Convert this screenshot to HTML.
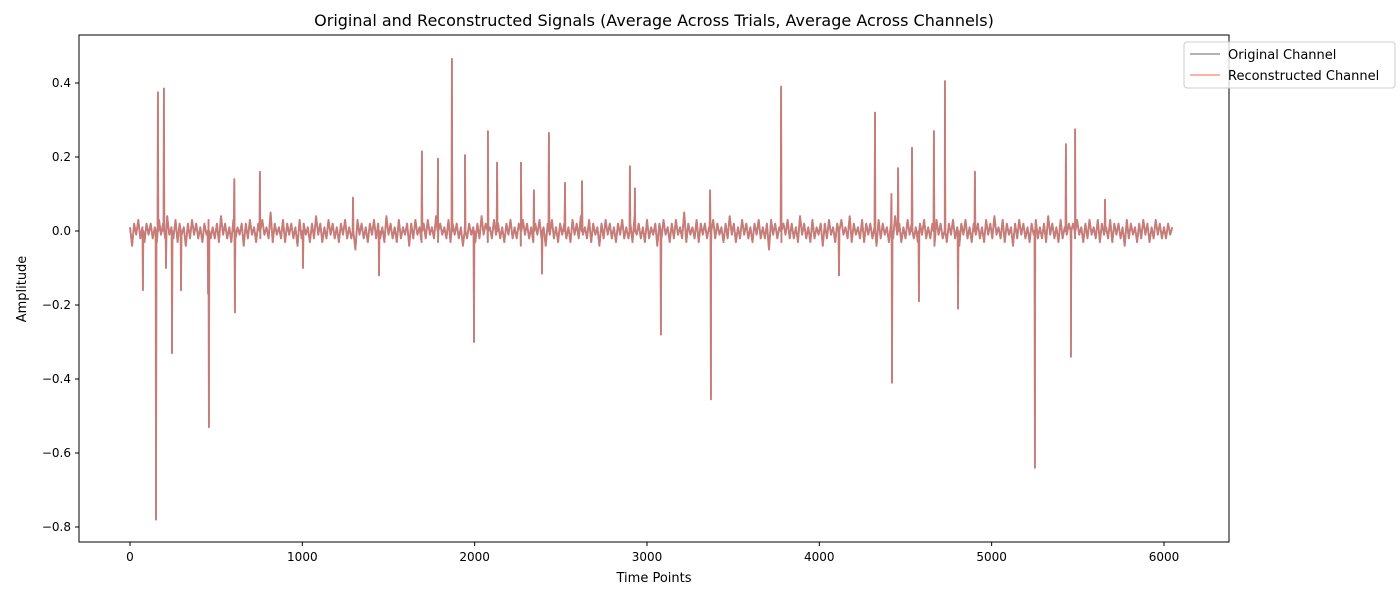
<!DOCTYPE html>
<html><head><meta charset="utf-8"><style>
body{margin:0;background:#fff;font-family:"Liberation Sans","DejaVu Sans",sans-serif}
svg text{font-family:"DejaVu Sans","Liberation Sans",sans-serif;fill:#000}
</style></head><body>
<svg id="chart" width="1400" height="600">
<text x="654" y="26" font-size="16" text-anchor="middle">Original and Reconstructed Signals (Average Across Trials, Average Across Channels)</text>
<g id="plot"></g>
<rect x="79" y="35" width="1150" height="507" fill="none" stroke="#000" stroke-width="1"/>
<g id="axes"></g>
<text x="654" y="582" font-size="13" text-anchor="middle">Time Points</text>
<text x="26" y="289" font-size="13" text-anchor="middle" transform="rotate(-90 26 289)">Amplitude</text>
<g>
<rect x="1184" y="42" width="211" height="46" rx="3" fill="#fff" fill-opacity="0.8" stroke="#ccc"/>
<line x1="1190" y1="54" x2="1220" y2="54" stroke="#808080" stroke-opacity="0.6" stroke-width="2"/>
<text x="1228" y="59" font-size="13">Original Channel</text>
<line x1="1190" y1="75" x2="1220" y2="75" stroke="#fa8072" stroke-opacity="0.6" stroke-width="2"/>
<text x="1228" y="80" font-size="13">Reconstructed Channel</text>
</g>
</svg>
<script>
const xTicks=[0,1000,2000,3000,4000,5000,6000];
const yTicks=[-0.8,-0.6,-0.4,-0.2,0.0,0.2,0.4];
const baseStep=12;
const baseline=[
0.01,-0.04,0.02,-0.01,0.03,-0.02,0.01,-0.03,0.02,-0.01,
0.02,-0.02,0.01,-0.03,0.03,-0.01,0.02,-0.02,0.04,-0.01,
0.01,-0.02,0.03,-0.03,0.02,-0.01,0.01,-0.04,0.02,-0.02,
0.03,-0.01,0.02,-0.02,0.01,-0.03,0.02,-0.01,0.03,-0.02,
0.01,-0.02,0.02,-0.03,0.04,-0.01,0.02,-0.02,0.01,-0.03,
0.03,-0.02,0.01,-0.01,0.02,-0.04,0.02,-0.02,0.03,-0.01,
0.01,-0.03,0.02,-0.02,0.03,-0.01,0.01,-0.02,0.05,-0.03,
0.02,-0.01,0.01,-0.02,0.03,-0.03,0.02,-0.01,0.02,-0.02,
0.01,-0.04,0.03,-0.02,0.02,-0.01,0.01,-0.03,0.02,-0.02,
0.04,-0.01,0.02,-0.03,0.01,-0.02,0.03,-0.01,0.02,-0.02,
0.01,-0.03,0.02,-0.01,0.03,-0.02,0.01,-0.02,0.02,-0.05,
0.03,-0.01,0.02,-0.02,0.01,-0.03,0.02,-0.01,0.03,-0.02,
0.02,-0.02,0.01,-0.03,0.04,-0.01,0.02,-0.02,0.01,-0.03,
0.03,-0.02,0.01,-0.01,0.02,-0.04,0.02,-0.02,0.03,-0.01,
0.01,-0.03,0.02,-0.02,0.03,-0.01,0.01,-0.02,0.04,-0.03,
0.02,-0.01,0.01,-0.02,0.03,-0.03,0.02,-0.01,0.02,-0.02,
0.01,-0.04,0.03,-0.02,0.02,-0.01,0.01,-0.03,0.02,-0.02,
0.04,-0.01,0.02,-0.03,0.01,-0.02,0.03,-0.01,0.02,-0.02,
0.01,-0.03,0.02,-0.01,0.03,-0.02,0.01,-0.02,0.02,-0.04,
0.03,-0.01,0.02,-0.02,0.01,-0.03,0.02,-0.01,0.03,-0.02,
0.01,-0.04,0.02,-0.01,0.03,-0.02,0.01,-0.03,0.02,-0.01,
0.02,-0.02,0.01,-0.03,0.03,-0.01,0.02,-0.02,0.04,-0.01,
0.01,-0.02,0.03,-0.03,0.02,-0.01,0.01,-0.04,0.02,-0.02,
0.03,-0.01,0.02,-0.02,0.01,-0.03,0.02,-0.01,0.03,-0.02,
0.01,-0.02,0.02,-0.03,0.04,-0.01,0.02,-0.02,0.01,-0.03,
0.03,-0.02,0.01,-0.01,0.02,-0.04,0.02,-0.02,0.03,-0.01,
0.01,-0.03,0.02,-0.02,0.03,-0.01,0.01,-0.02,0.05,-0.03,
0.02,-0.01,0.01,-0.02,0.03,-0.03,0.02,-0.01,0.02,-0.02,
0.01,-0.04,0.03,-0.02,0.02,-0.01,0.01,-0.03,0.02,-0.02,
0.04,-0.01,0.02,-0.03,0.01,-0.02,0.03,-0.01,0.02,-0.02,
0.01,-0.03,0.02,-0.01,0.03,-0.02,0.01,-0.02,0.02,-0.05,
0.03,-0.01,0.02,-0.02,0.01,-0.03,0.02,-0.01,0.03,-0.02,
0.02,-0.02,0.01,-0.03,0.04,-0.01,0.02,-0.02,0.01,-0.03,
0.03,-0.02,0.01,-0.01,0.02,-0.04,0.02,-0.02,0.03,-0.01,
0.01,-0.03,0.02,-0.02,0.03,-0.01,0.01,-0.02,0.04,-0.03,
0.02,-0.01,0.01,-0.02,0.03,-0.03,0.02,-0.01,0.02,-0.02,
0.01,-0.04,0.03,-0.02,0.02,-0.01,0.01,-0.03,0.02,-0.02,
0.04,-0.01,0.02,-0.03,0.01,-0.02,0.03,-0.01,0.02,-0.02,
0.01,-0.03,0.02,-0.01,0.03,-0.02,0.01,-0.02,0.02,-0.04,
0.03,-0.01,0.02,-0.02,0.01,-0.03,0.02,-0.01,0.03,-0.02,
0.01,-0.04,0.02,-0.01,0.03,-0.02,0.01,-0.03,0.02,-0.01,
0.02,-0.02,0.01,-0.03,0.03,-0.01,0.02,-0.02,0.04,-0.01,
0.01,-0.02,0.03,-0.03,0.02,-0.01,0.01,-0.04,0.02,-0.02,
0.03,-0.01,0.02,-0.02,0.01,-0.03,0.02,-0.01,0.03,-0.02,
0.01,-0.02,0.02,-0.03,0.04,-0.01,0.02,-0.02,0.01,-0.03,
0.03,-0.02,0.01,-0.01,0.02,-0.04,0.02,-0.02,0.03,-0.01,
0.01,-0.03,0.02,-0.02,0.03,-0.01,0.01,-0.02,0.03,-0.03,
0.02,-0.01,0.01,-0.02,0.03,-0.03,0.02,-0.01,0.02,-0.02,
0.01,-0.04,0.03,-0.02,0.02,-0.01,0.01,-0.03,0.02,-0.02,
0.03,-0.01,0.02,-0.03,0.01,-0.02,0.03,-0.01,0.02,-0.02,
0.01,-0.02,0.02,-0.01,0.01];
const spikeTimes=[75,151,162,197,209,244,296,453,458,605,609,754,1004,1294,1445,1694,1787,1868,1944,1996,2077,2130,2269,2344,2391,2431,2524,2623,2901,2930,3081,3366,3371,3778,4114,4323,4418,4422,4457,4538,4578,4665,4729,4805,4903,5251,5431,5460,5484,5658];
const spikeValues=[-0.16,-0.78,0.375,0.385,-0.1,-0.33,-0.16,-0.17,-0.53,0.14,-0.22,0.16,-0.1,0.09,-0.12,0.215,0.195,0.465,0.205,-0.3,0.27,0.185,0.185,0.11,-0.115,0.265,0.13,0.135,0.175,0.115,-0.28,0.11,-0.455,0.39,-0.12,0.32,0.1,-0.41,0.17,0.225,-0.19,0.27,0.405,-0.21,0.16,-0.64,0.235,-0.34,0.275,0.085];
const X=t=>130+t*0.17233;
const Y=v=>231-v*370;
const NS="http://www.w3.org/2000/svg";
const axes=document.getElementById('axes');
xTicks.forEach(t=>{
 const l=document.createElementNS(NS,'line');
 l.setAttribute('x1',X(t));l.setAttribute('x2',X(t));l.setAttribute('y1',542);l.setAttribute('y2',546);l.setAttribute('stroke','#000');
 
 
 axes.appendChild(l);
 const tx=document.createElementNS(NS,'text');
 tx.setAttribute('x',X(t));tx.setAttribute('y',561);tx.setAttribute('font-size','12');tx.setAttribute('text-anchor','middle');tx.textContent=t;
 
 
 axes.appendChild(tx);
});
yTicks.forEach(v=>{
 const l=document.createElementNS(NS,'line');
 l.setAttribute('x1',75);l.setAttribute('x2',79);l.setAttribute('y1',Y(v));l.setAttribute('y2',Y(v));l.setAttribute('stroke','#000');
 
 
 axes.appendChild(l);
 const tx=document.createElementNS(NS,'text');
 tx.setAttribute('x',71);tx.setAttribute('y',Y(v)+4);tx.setAttribute('font-size','12');tx.setAttribute('text-anchor','end');tx.textContent=(v<0?'\u2212':'')+Math.abs(v).toFixed(1);
 
 
 axes.appendChild(tx);
});
let pts=baseline.map((v,i)=>[i*baseStep,v]);
spikeTimes.forEach((t,i)=>{pts.push([t,spikeValues[i]]);pts.push([t+2,0]);pts.push([t-2,0]);});
pts.sort((a,b)=>a[0]-b[0]);
const d='M'+pts.map(p=>X(p[0]).toFixed(1)+','+Y(p[1]).toFixed(1)).join('L');
const plot=document.getElementById('plot');
[['#9a9a9a','original-signal-line'],['#c87b77','reconstructed-signal-line']].forEach(([c,n])=>{
 const p=document.createElementNS(NS,'path');
 p.setAttribute('d',d);p.setAttribute('fill','none');p.setAttribute('stroke',c);p.setAttribute('stroke-width','1.8');p.setAttribute('stroke-linejoin','round');
 
 
 plot.appendChild(p);
});
</script>
</body></html>
